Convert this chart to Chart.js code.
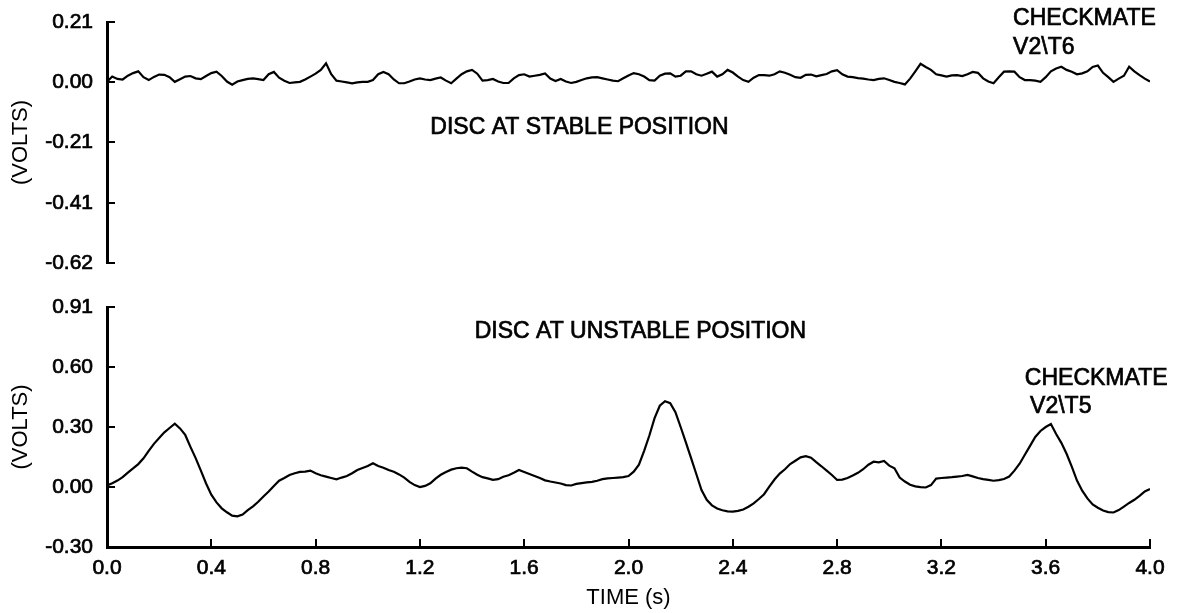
<!DOCTYPE html>
<html>
<head>
<meta charset="utf-8">
<title>Checkmate V2 disc signals</title>
<script src="https://cdn.jsdelivr.net/npm/chart.js@4.4.1/dist/chart.umd.min.js"></script>
<style>
    html, body { margin: 0; padding: 0; background: #fff; }
    #page { position: relative; width: 1179px; height: 613px; overflow: hidden; }
    .panel { position: absolute; left: 0; width: 1179px; }
    #topPanel { top: 0; height: 275px; }
    #bottomPanel { top: 280px; height: 333px; }
</style>
</head>
<body>
<div id="page">
    <div class="panel" id="topPanel"><canvas id="stableChart"></canvas></div>
    <div class="panel" id="bottomPanel"><canvas id="unstableChart"></canvas></div>
</div>
<script>
// sample times (s), one every 0.02 s
const timeSeconds = [
    0.00, 0.02, 0.04, 0.06, 0.08, 0.10, 0.12, 0.14, 0.16, 0.18,
    0.20, 0.22, 0.24, 0.26, 0.28, 0.30, 0.32, 0.34, 0.36, 0.38,
    0.40, 0.42, 0.44, 0.46, 0.48, 0.50, 0.52, 0.54, 0.56, 0.58,
    0.60, 0.62, 0.64, 0.66, 0.68, 0.70, 0.72, 0.74, 0.76, 0.78,
    0.80, 0.82, 0.84, 0.86, 0.88, 0.90, 0.92, 0.94, 0.96, 0.98,
    1.00, 1.02, 1.04, 1.06, 1.08, 1.10, 1.12, 1.14, 1.16, 1.18,
    1.20, 1.22, 1.24, 1.26, 1.28, 1.30, 1.32, 1.34, 1.36, 1.38,
    1.40, 1.42, 1.44, 1.46, 1.48, 1.50, 1.52, 1.54, 1.56, 1.58,
    1.60, 1.62, 1.64, 1.66, 1.68, 1.70, 1.72, 1.74, 1.76, 1.78,
    1.80, 1.82, 1.84, 1.86, 1.88, 1.90, 1.92, 1.94, 1.96, 1.98,
    2.00, 2.02, 2.04, 2.06, 2.08, 2.10, 2.12, 2.14, 2.16, 2.18,
    2.20, 2.22, 2.24, 2.26, 2.28, 2.30, 2.32, 2.34, 2.36, 2.38,
    2.40, 2.42, 2.44, 2.46, 2.48, 2.50, 2.52, 2.54, 2.56, 2.58,
    2.60, 2.62, 2.64, 2.66, 2.68, 2.70, 2.72, 2.74, 2.76, 2.78,
    2.80, 2.82, 2.84, 2.86, 2.88, 2.90, 2.92, 2.94, 2.96, 2.98,
    3.00, 3.02, 3.04, 3.06, 3.08, 3.10, 3.12, 3.14, 3.16, 3.18,
    3.20, 3.22, 3.24, 3.26, 3.28, 3.30, 3.32, 3.34, 3.36, 3.38,
    3.40, 3.42, 3.44, 3.46, 3.48, 3.50, 3.52, 3.54, 3.56, 3.58,
    3.60, 3.62, 3.64, 3.66, 3.68, 3.70, 3.72, 3.74, 3.76, 3.78,
    3.80, 3.82, 3.84, 3.86, 3.88, 3.90, 3.92, 3.94, 3.96, 3.98,
    4.00
];

// disc at stable position (V2\T6)
const stableVolts = [
    0.004, 0.022, 0.014, 0.012, 0.025, 0.034, 0.040, 0.020, 0.010, 0.021,
    0.029, 0.028, 0.020, 0.004, 0.013, 0.022, 0.024, 0.016, 0.013, 0.024,
    0.034, 0.039, 0.024, 0.005, -0.006, 0.005, 0.010, 0.014, 0.016, 0.013,
    0.010, 0.030, 0.038, 0.018, 0.008, 0.000, 0.002, 0.004, 0.012, 0.022,
    0.032, 0.045, 0.068, 0.030, 0.008, 0.005, 0.002, -0.001, 0.002, 0.004,
    0.004, 0.010, 0.030, 0.038, 0.030, 0.012, -0.001, -0.001, 0.005, 0.012,
    0.016, 0.012, 0.010, 0.015, 0.019, 0.008, -0.001, 0.015, 0.030, 0.040,
    0.045, 0.032, 0.008, 0.010, 0.014, 0.005, 0.000, 0.000, 0.016, 0.027,
    0.030, 0.022, 0.025, 0.028, 0.033, 0.015, 0.007, 0.014, 0.005, 0.000,
    0.004, 0.010, 0.016, 0.019, 0.020, 0.016, 0.012, 0.008, 0.006, 0.016,
    0.026, 0.034, 0.030, 0.022, 0.010, 0.008, 0.025, 0.032, 0.033, 0.022,
    0.025, 0.040, 0.040, 0.030, 0.025, 0.032, 0.039, 0.022, 0.030, 0.045,
    0.036, 0.022, 0.010, 0.004, 0.018, 0.027, 0.027, 0.025, 0.030, 0.040,
    0.035, 0.028, 0.020, 0.018, 0.028, 0.029, 0.023, 0.027, 0.031, 0.040,
    0.044, 0.030, 0.022, 0.020, 0.017, 0.015, 0.012, 0.010, 0.014, 0.016,
    0.010, 0.004, 0.000, -0.005, 0.015, 0.040, 0.066, 0.055, 0.045, 0.030,
    0.026, 0.022, 0.026, 0.027, 0.024, 0.030, 0.038, 0.035, 0.016, 0.005,
    -0.001, 0.020, 0.039, 0.040, 0.039, 0.020, 0.010, 0.010, 0.008, 0.004,
    0.020, 0.040, 0.050, 0.056, 0.045, 0.039, 0.030, 0.033, 0.040, 0.055,
    0.060, 0.035, 0.020, 0.004, 0.015, 0.025, 0.056, 0.040, 0.027, 0.015,
    0.005
];

// disc at unstable position (V2\T5)
const unstableVolts = [
    0.010, 0.022, 0.035, 0.052, 0.075, 0.096, 0.118, 0.147, 0.185, 0.220,
    0.250, 0.278, 0.300, 0.322, 0.298, 0.265, 0.205, 0.148, 0.085, 0.020,
    -0.036, -0.075, -0.105, -0.125, -0.142, -0.145, -0.136, -0.114, -0.095, -0.072,
    -0.045, -0.020, 0.008, 0.034, 0.048, 0.063, 0.072, 0.079, 0.080, 0.085,
    0.072, 0.062, 0.055, 0.048, 0.041, 0.050, 0.058, 0.072, 0.088, 0.098,
    0.108, 0.122, 0.108, 0.100, 0.088, 0.079, 0.066, 0.050, 0.028, 0.012,
    0.002, 0.008, 0.021, 0.045, 0.064, 0.078, 0.090, 0.097, 0.100, 0.097,
    0.080, 0.064, 0.052, 0.046, 0.039, 0.042, 0.054, 0.062, 0.074, 0.088,
    0.078, 0.068, 0.058, 0.048, 0.036, 0.030, 0.025, 0.020, 0.012, 0.010,
    0.018, 0.022, 0.026, 0.028, 0.034, 0.042, 0.046, 0.048, 0.050, 0.052,
    0.058, 0.080, 0.115, 0.185, 0.262, 0.350, 0.412, 0.435, 0.425, 0.380,
    0.305, 0.228, 0.148, 0.068, -0.013, -0.062, -0.090, -0.106, -0.115, -0.120,
    -0.122, -0.118, -0.111, -0.097, -0.080, -0.058, -0.034, 0.004, 0.040, 0.070,
    0.092, 0.118, 0.135, 0.152, 0.158, 0.150, 0.128, 0.107, 0.085, 0.063,
    0.038, 0.040, 0.048, 0.060, 0.074, 0.092, 0.115, 0.130, 0.127, 0.134,
    0.110, 0.097, 0.050, 0.030, 0.014, 0.006, 0.002, 0.000, 0.012, 0.045,
    0.048, 0.050, 0.052, 0.055, 0.058, 0.063, 0.056, 0.048, 0.042, 0.038,
    0.034, 0.037, 0.043, 0.055, 0.085, 0.120, 0.165, 0.210, 0.255, 0.285,
    0.305, 0.320, 0.270, 0.225, 0.170, 0.105, 0.035, -0.016, -0.055, -0.085,
    -0.102, -0.116, -0.124, -0.126, -0.114, -0.096, -0.078, -0.062, -0.042, -0.020,
    -0.008
];

// axis ticks as printed on the original plot
const xTickValues = [0, 0.4, 0.8, 1.2, 1.6, 2.0, 2.4, 2.8, 3.2, 3.6, 4.0];
const xTickLabels = ['0.0', '0.4', '0.8', '1.2', '1.6', '2.0', '2.4', '2.8', '3.2', '3.6', '4.0'];
const stableTickValues = [-0.62, -0.4125, -0.205, 0.0025, 0.21];
const stableTickLabels = ['-0.62', '-0.41', '-0.21', '0.00', '0.21'];
const unstableTickValues = [-0.30, 0.0025, 0.305, 0.6075, 0.91];
const unstableTickLabels = ['-0.30', '0.00', '0.30', '0.60', '0.91'];

// text notes, anchored in data units (left edge, vertical middle)
const stableNotes = [
    { text: 'CHECKMATE', t: 3.475, v: 0.222 },
    { text: 'V2\\T6', t: 3.475, v: 0.122 },
    { text: 'DISC AT STABLE POSITION', t: 1.24, v: -0.155 }
];
const unstableNotes = [
    { text: 'DISC AT UNSTABLE POSITION', t: 1.41, v: 0.784 },
    { text: 'CHECKMATE', t: 3.52, v: 0.55 },
    { text: 'V2\\T5', t: 3.54, v: 0.407 }
];

const FONT_FAMILY = '"Liberation Sans", Arial, Helvetica, sans-serif';
Chart.defaults.font.family = FONT_FAMILY;
Chart.defaults.color = '#000';

const noteLabels = {
    id: 'noteLabels',
    afterDraw(chart, args, opts) {
        const { ctx } = chart;
        const xs = chart.scales.x;
        const ys = chart.scales.y;
        ctx.save();
        ctx.fillStyle = '#000';
        ctx.strokeStyle = '#000';
        ctx.lineWidth = 0.7;
        ctx.font = '23px ' + FONT_FAMILY;
        ctx.textAlign = 'left';
        ctx.textBaseline = 'middle';
        (opts.items || []).forEach(note => {
            const px = xs.getPixelForValue(note.t);
            const py = ys.getPixelForValue(note.v);
            ctx.fillText(note.text, px, py);
            ctx.strokeText(note.text, px, py);
        });
        ctx.restore();
    }
};

function buildPoints(values) {
    return timeSeconds.map((t, i) => ({ x: t, y: values[i] }));
}

function yAxis(min, max, tickValues, tickLabels) {
    return {
        type: 'linear',
        position: 'left',
        min: min,
        max: max,
        afterFit: scale => {
            // fixed gutter; keep the label padding from pushing the plot area around
            scale.width = 107;
            scale.paddingTop = 12;
            scale.paddingBottom = 12;
        },
        afterBuildTicks: scale => { scale.ticks = tickValues.map(v => ({ value: v })); },
        border: { display: true, color: '#000', width: 3 },
        grid: { drawOnChartArea: false, drawTicks: true, tickLength: -8, color: '#000', lineWidth: 2 },
        ticks: {
            padding: 22,
            font: { size: 21 },
            textStrokeColor: '#000',
            textStrokeWidth: 0.7,
            callback: (value, index) => tickLabels[index]
        },
        title: {
            display: true,
            text: '(VOLTS)',
            font: { size: 22 },
            padding: { top: 8, bottom: 0 }
        }
    };
}

function xAxis(visible) {
    return {
        type: 'linear',
        min: 0,
        max: 4,
        display: visible,
        afterFit: scale => {
            if (!visible) return;
            scale.height = 66;
            scale.paddingLeft = 15;
            scale.paddingRight = 15;
        },
        afterBuildTicks: scale => { scale.ticks = xTickValues.map(v => ({ value: v })); },
        border: { display: true, color: '#000', width: 3 },
        grid: { drawOnChartArea: false, drawTicks: true, tickLength: -8, color: '#000', lineWidth: 2 },
        ticks: {
            padding: 17,
            autoSkip: false,
            maxRotation: 0,
            font: { size: 21 },
            textStrokeColor: '#000',
            textStrokeWidth: 0.7,
            callback: (value, index) => xTickLabels[index]
        },
        title: {
            display: true,
            text: 'TIME (s)',
            font: { size: 22 },
            padding: { top: 0, bottom: 2 }
        }
    };
}

function makeChart(canvasId, values, scales, notes, padding) {
    return new Chart(document.getElementById(canvasId), {
        type: 'line',
        data: {
            datasets: [{
                data: buildPoints(values),
                borderColor: '#000',
                borderWidth: 2.2,
                pointRadius: 0,
                tension: 0,
                fill: false
            }]
        },
        options: {
            responsive: true,
            maintainAspectRatio: false,
            animation: false,
            layout: { padding: padding },
            plugins: {
                legend: { display: false },
                tooltip: { enabled: false },
                noteLabels: { items: notes }
            },
            scales: scales
        },
        plugins: [noteLabels]
    });
}

makeChart('stableChart', stableVolts, {
    x: xAxis(false),
    y: yAxis(-0.62, 0.21, stableTickValues, stableTickLabels)
}, stableNotes, { top: 22, right: 29, bottom: 12, left: 0 });

makeChart('unstableChart', unstableVolts, {
    x: xAxis(true),
    y: yAxis(-0.30, 0.91, unstableTickValues, unstableTickLabels)
}, unstableNotes, { top: 27, right: 29, bottom: 0, left: 0 });
</script>
</body>
</html>
